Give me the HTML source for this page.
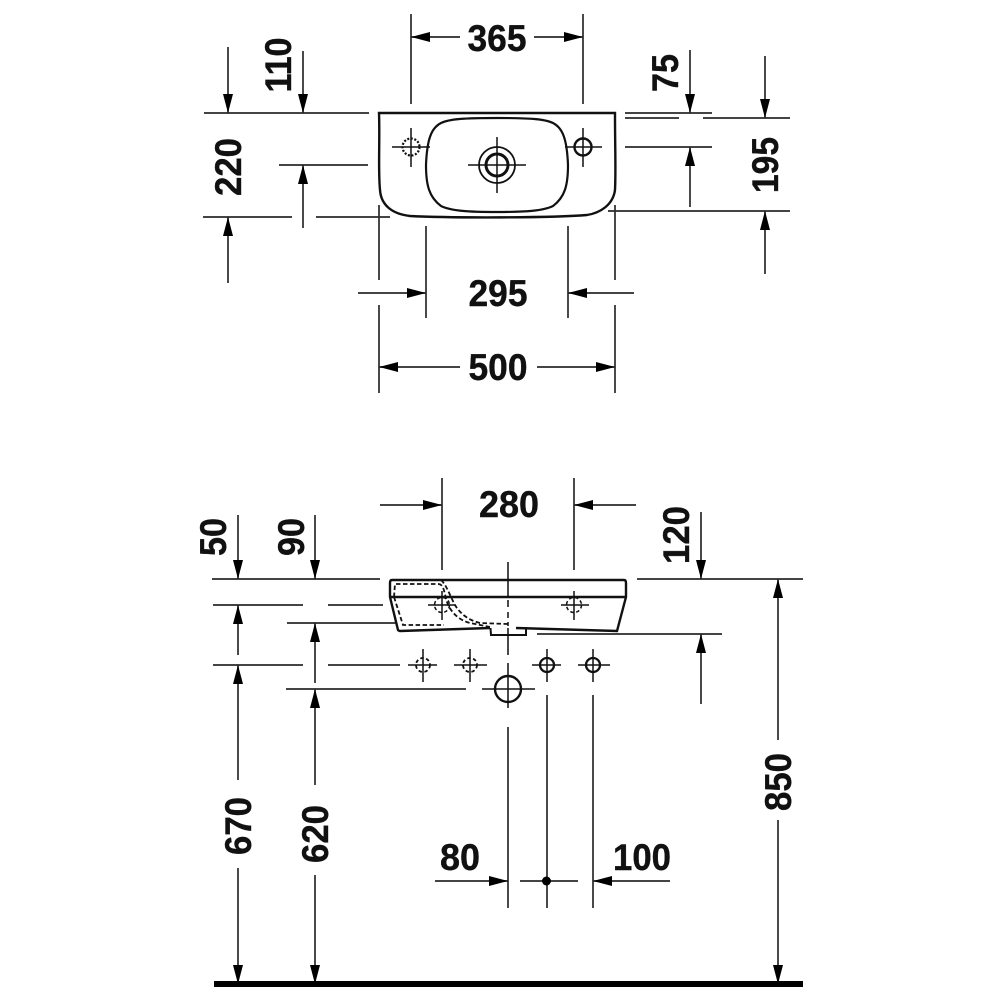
<!DOCTYPE html>
<html><head><meta charset="utf-8"><style>
html,body{margin:0;padding:0;background:#fff}
svg{display:block}
text{font-family:"Liberation Sans",sans-serif;font-weight:bold;font-size:37px;fill:#111;stroke:#111;stroke-width:.4;text-anchor:middle}
</style></head><body>
<svg width="1000" height="1000" viewBox="0 0 1000 1000" xmlns="http://www.w3.org/2000/svg">
<rect width="1000" height="1000" fill="#fff"/>
<!-- thin dimension lines -->
<path fill="none" stroke="#2a2a2a" stroke-width="1.700" d="
M411 14V104M583 14V104M411 37H460M534 37H583
M228 47V113M303 51V113M204 113H369
M279 165H368M303 165V228M203 217H292M316 217H390M228 217V283
M625 113H712M625 118H679M703 118H790M625 147H712M608 211H790
M690 50V113M765 56V118M690 147V207M765 211V274
M379 205V280M615 205V280M379 305V393M615 305V393
M426 226V318M568 226V318M358 293H426M634 293H568
M379 367H460M537 367H615
M442 478V570M574 478V570M380 505H442M636 505H574
M212 579H380M637 579H803M238 515V579M315 515V579M701 512V579
M213 605H303M328 605H383M238 605V655
M287 623H397M315 623V683
M213 665H303M328 665H400M238 665V780M238 868V983
M286 689H466M315 689V785M315 875V983
M778 579V740M778 820V983
M537 634H722M701 634V704
M508 562V597M508 600V607M508 612V618M508 622V626M508 628V655M508 663V708M508 727V908
M547 695V908M593 695V908
M435 881H508M520 881H578M670 881H593
"/>
<!-- arrowheads -->
<path fill="#000" d="
M411 37l19-5v10zM583 37l-19-5v10z
M228 113l-5-19h10zM303 113l-5-19h10z
M303 165l-5 19h10zM228 217l-5 19h10z
M690 113l-5-19h10zM765 118l-5-19h10z
M690 147l-5 19h10zM765 211l-5 19h10z
M426 293l-19-5v10zM568 293l19-5v10z
M379 367l19-5v10zM615 367l-19-5v10z
M442 505l-19-5v10zM574 505l19-5v10z
M238 579l-5-19h10zM315 579l-5-19h10zM701 579l-5-19h10z
M238 605l-5 19h10zM315 623l-5 19h10zM238 665l-5 19h10zM315 689l-5 19h10z
M238 984l-5-19h10zM315 984l-5-19h10zM778 984l-5-19h10z
M778 579l-5 19h10zM701 634l-5 19h10z
M508 881l-19-5v10zM593 881l19-5v10z
"/>
<!-- top view basin -->
<g fill="none" stroke="#111">
<path stroke-width="2.400" d="M379 113H615C615 150 616 170 615 190C613 205 600 213 587 215C550 218 450 218 410 216C392 214 381 205 380 190C378 170 380 140 379 113Z"/>
<path stroke-width="2.200" d="M497 118C530 118 545 119 553 123C563 128 567 140 568 165C568 185 565 197 553 206C543 211 525 212 497 212C469 212 451 211 441 206C429 197 426 185 426 165C427 140 431 128 441 123C449 119 464 118 497 118Z"/>
<circle cx="497" cy="165" r="18" stroke-width="1.800"/>
<circle cx="497" cy="165" r="11" stroke-width="3"/>
<circle cx="411" cy="147" r="8.500" stroke-width="2.200" stroke-dasharray="2 1.600"/>
<circle cx="583" cy="147" r="8.500" stroke-width="2.400"/>
<path stroke-width="1.500" d="M468 165H526M497 137V193M392 147H430M411 128V167M565 147H602M583 128V167"/>
</g>
<!-- side view basin -->
<g fill="none" stroke="#111">
<path stroke-width="2.400" d="M490 628L400 631Q399 631 398 630L390 597V583Q390 580 392 580H624Q626 580 626 583V597L617 631L516 628"/>
<path stroke-width="2.400" d="M390 597H626"/>
<path stroke-width="2" d="M490.500 628L491 635H526V628H516"/>
<path stroke-width="1.800" stroke-dasharray="4.500 2.500" d="M394 597L395 584H438C444 584 444 592 447 602C450 611 458 620 470 623L490 627M394 597L403 625H444"/>
<path stroke-width="1.800" stroke-dasharray="4.500 2.500" d="M441 580C446 584 451 598 455 605C459 612 467 620 480 623L508 624"/>
<circle cx="442" cy="605" r="7.500" stroke-width="1.500" stroke-dasharray="3.500 2.500"/>
<circle cx="574" cy="605" r="7.500" stroke-width="1.500" stroke-dasharray="3.500 2.500"/>
<circle cx="423" cy="665" r="7" stroke-width="1.800" stroke-dasharray="3.500 2.500"/>
<circle cx="470" cy="665" r="7" stroke-width="1.800" stroke-dasharray="3.500 2.500"/>
<circle cx="547" cy="665" r="7" stroke-width="2.300"/>
<circle cx="593" cy="665" r="7" stroke-width="2.300"/>
<circle cx="508" cy="689" r="13" stroke-width="2.400"/>
<path stroke-width="1.500" d="M428 605H455M442 591V620M561 605H589M574 591V620M408 665H437M423 649V682M454 665H487M470 649V682M532 665H561M547 649V682M578 665H610M593 649V682M482 689H535"/>
</g>
<circle cx="546.500" cy="881" r="4.500" fill="#000"/>
<rect x="214" y="981" width="589" height="6" fill="#000"/>
<!-- labels -->
<g>
<text x="497" y="51" textLength="59" lengthAdjust="spacingAndGlyphs">365</text>
<text x="498" y="306" textLength="59" lengthAdjust="spacingAndGlyphs">295</text>
<text x="498" y="380" textLength="59" lengthAdjust="spacingAndGlyphs">500</text>
<text x="509" y="517" textLength="60" lengthAdjust="spacingAndGlyphs">280</text>
<text x="460" y="870" textLength="40" lengthAdjust="spacingAndGlyphs">80</text>
<text x="642" y="870" textLength="58" lengthAdjust="spacingAndGlyphs">100</text>
<text transform="translate(291 65) rotate(-90)" textLength="55" lengthAdjust="spacingAndGlyphs">110</text>
<text transform="translate(241 167) rotate(-90)" textLength="58" lengthAdjust="spacingAndGlyphs">220</text>
<text transform="translate(678 73) rotate(-90)" textLength="38" lengthAdjust="spacingAndGlyphs">75</text>
<text transform="translate(778 165) rotate(-90)" textLength="56" lengthAdjust="spacingAndGlyphs">195</text>
<text transform="translate(226 537) rotate(-90)" textLength="38" lengthAdjust="spacingAndGlyphs">50</text>
<text transform="translate(304 537) rotate(-90)" textLength="38" lengthAdjust="spacingAndGlyphs">90</text>
<text transform="translate(689 535) rotate(-90)" textLength="58" lengthAdjust="spacingAndGlyphs">120</text>
<text transform="translate(251 826) rotate(-90)" textLength="58" lengthAdjust="spacingAndGlyphs">670</text>
<text transform="translate(328 834) rotate(-90)" textLength="58" lengthAdjust="spacingAndGlyphs">620</text>
<text transform="translate(791 782) rotate(-90)" textLength="58" lengthAdjust="spacingAndGlyphs">850</text>
</g>
</svg>
</body></html>
